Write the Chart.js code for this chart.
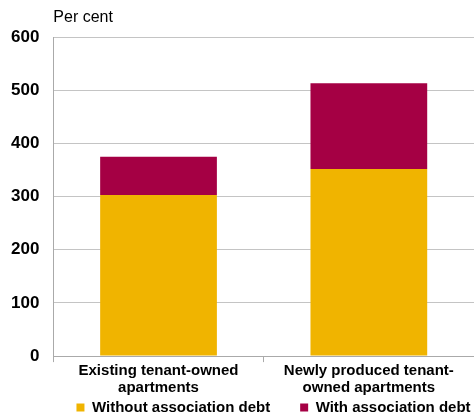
<!DOCTYPE html>
<html>
<head>
<meta charset="utf-8">
<script src="https://cdn.jsdelivr.net/npm/chart.js"></script>
<style>
  html, body { margin: 0; padding: 0; background: #fff; overflow: hidden; }
  #wrap { width: 474px; height: 416px; }
</style>
</head>
<body>
<div id="wrap"><canvas id="c"></canvas></div>
<script>
const categories = [
  ['Existing tenant-owned', 'apartments'],
  ['Newly produced tenant-', 'owned apartments']
];
const withoutDebt = [303, 352];
const withDebt = [72, 161];
const seriesNames = ['Without association debt', 'With association debt'];
const unitLabel = 'Per cent';

const yellow = '#f0b400';
const red = '#a50044';
const font = '"Liberation Sans", Arial, sans-serif';

// "Per cent" above the y axis
const unitPlugin = {
  id: 'unit',
  afterDraw(chart) {
    const ctx = chart.ctx;
    ctx.save();
    ctx.font = '16px ' + font;
    ctx.fillStyle = '#000';
    ctx.textBaseline = 'middle';
    ctx.fillText(unitLabel, chart.chartArea.left, 18);
    ctx.restore();
  }
};

// legend needs wide gaps between items but should sit tight under the x labels,
// so make its box shorter in the layout and pull its top up afterwards.
// it also sits a bit right of centre in the original
const legendSqueeze = {
  id: 'legendSqueeze',
  beforeLayout(chart) {
    const lg = chart.legend;
    if (lg && !lg._squeezed) {
      const fit = lg.fit.bind(lg);
      lg.fit = function () { fit(); this.height -= 35; };
      lg._squeezed = true;
    }
  },
  afterLayout(chart) {
    const lg = chart.legend;
    if (!lg) return;
    lg.top -= 26;
    lg.left += 36;
    lg.right += 36;
  }
};

new Chart(document.getElementById('c'), {
  type: 'bar',
  data: {
    labels: categories,
    datasets: [
      { label: seriesNames[0], data: withoutDebt, backgroundColor: yellow },
      { label: seriesNames[1], data: withDebt, backgroundColor: red }
    ]
  },
  options: {
    responsive: true,
    maintainAspectRatio: false,
    animation: false,
    layout: { padding: { top: 37, right: -4, left: -3, bottom: 0 } },
    datasets: { bar: { categoryPercentage: 0.555, barPercentage: 1 } },
    plugins: {
      legend: {
        position: 'bottom',
        labels: {
          boxWidth: 8, boxHeight: 8, padding: 30,
          color: '#000',
          font: { family: font, size: 15, weight: 'bold' }
        }
      },
      tooltip: { enabled: false }
    },
    scales: {
      x: {
        stacked: true,
        grid: { display: true, drawOnChartArea: false, tickLength: 6, color: '#aaa' },
        border: { color: '#aaa' },
        ticks: {
          color: '#000', padding: 0,
          font: { family: font, size: 15, weight: 'bold', lineHeight: 1.13 }
        }
      },
      y: {
        stacked: true,
        min: 0, max: 600,
        ticks: {
          stepSize: 100, color: '#000', padding: 14,
          font: { family: font, size: 17, weight: 'bold' }
        },
        grid: { color: '#c4c4c4', drawTicks: false },
        border: { color: '#aaa' }
      }
    }
  },
  plugins: [unitPlugin, legendSqueeze]
});
</script>
</body>
</html>
